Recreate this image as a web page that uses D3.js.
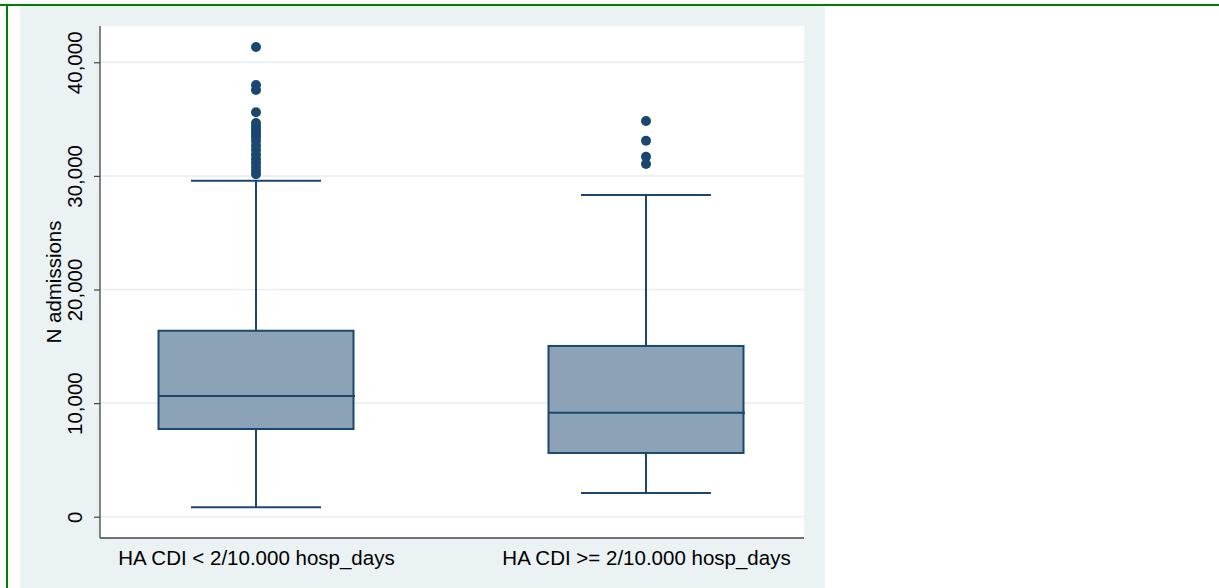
<!DOCTYPE html>
<html>
<head>
<meta charset="utf-8">
<script src="https://cdn.jsdelivr.net/npm/d3@7"></script>
<style>
  html, body { margin: 0; padding: 0; background: #ffffff; }
  svg { display: block; }
  text { font-family: "Liberation Sans", Arial, sans-serif; fill: #000; }
</style>
</head>
<body>
<svg id="chart" width="1219" height="588"></svg>
<script>
// Group labels
const categories = ["HA CDI < 2/10.000 hosp_days", "HA CDI >= 2/10.000 hosp_days"];
// Box summary per group: lower whisker, Q1, median, Q3, upper whisker
const lowerWhisker = [830, 2090];
const q1 = [7720, 5610];
const median = [10630, 9160];
const q3 = [16370, 15030];
const upperWhisker = [29580, 28320];
// Points beyond the upper whisker
const outliersLow = [41350, 38000, 37560, 35600, 34650, 34350, 34050, 33750, 33450, 33100, 32700,
                     32300, 31900, 31500, 31150, 30800, 30450, 30150];
const outliersHigh = [34830, 33100, 31690, 31050];
const yTicks = [0, 10000, 20000, 30000, 40000];
const yTitle = "N admissions";

const svg = d3.select("#chart");

const frame = { left: 20, top: 6, right: 825, bottom: 588 };
const plot = { left: 100, top: 26, right: 804, bottom: 538 };

const navy = "#1a476f";
const boxFill = "#8ca2b6";
const panelBg = "#eaf2f3";
const fontSize = "20.5px";

// outer green frame lines (top and left)
svg.append("rect").attr("x", 0).attr("y", 4).attr("width", 1219).attr("height", 2).attr("fill", "#008000");
svg.append("rect").attr("x", 6).attr("y", 4).attr("width", 2).attr("height", 584).attr("fill", "#008000");

// graph region background
svg.append("rect")
  .attr("x", frame.left).attr("y", frame.top)
  .attr("width", frame.right - frame.left).attr("height", frame.bottom - frame.top)
  .attr("fill", panelBg);

// plot region
svg.append("rect")
  .attr("x", plot.left).attr("y", plot.top)
  .attr("width", plot.right - plot.left).attr("height", plot.bottom - plot.top)
  .attr("fill", "#ffffff");

const y = d3.scaleLinear().domain([0, 40000]).range([516.7, 62.3]);
const x = d3.scalePoint().domain(categories).range([plot.left, 802]).padding(0.4);
const step = x.step();
const boxW = step * 0.5;
const capW = step / 3;

// horizontal grid lines
svg.append("g").selectAll("line").data(yTicks).join("line")
  .attr("x1", plot.left).attr("x2", plot.right)
  .attr("y1", d => y(d)).attr("y2", d => y(d))
  .attr("stroke", "#e6eef1").attr("stroke-width", 1.5);

// y axis
const yAxis = d3.axisLeft(y).tickValues(yTicks).tickSize(6).tickFormat(d3.format(","));
const gy = svg.append("g").attr("transform", `translate(${plot.left},0)`).call(yAxis);
gy.select(".domain").remove();
gy.selectAll(".tick line").attr("stroke", "#444").attr("stroke-width", 1.2);
gy.selectAll(".tick text")
  .attr("transform", "rotate(-90)")
  .attr("x", 0).attr("y", -18.5).attr("dy", 0)
  .attr("text-anchor", "middle")
  .style("font-size", fontSize)
  .style("font-family", "'Liberation Sans', Arial, sans-serif")
  .attr("fill", "#000");

// axis lines
svg.append("line").attr("x1", plot.left).attr("x2", plot.left)
  .attr("y1", plot.top).attr("y2", plot.bottom).attr("stroke", "#444").attr("stroke-width", 1.3);
svg.append("line").attr("x1", plot.left).attr("x2", plot.right)
  .attr("y1", plot.bottom).attr("y2", plot.bottom).attr("stroke", "#444").attr("stroke-width", 1.3);

// x category labels
const xAxis = d3.axisBottom(x).tickSize(0);
const gx = svg.append("g").attr("transform", `translate(0,${plot.bottom})`).call(xAxis);
gx.select(".domain").remove();
gx.selectAll(".tick text")
  .attr("y", 27).attr("dy", 0)
  .style("font-size", fontSize)
  .style("font-family", "'Liberation Sans', Arial, sans-serif")
  .attr("fill", "#000");

// y axis title
svg.append("text")
  .attr("transform", `translate(61,${(plot.top + plot.bottom) / 2}) rotate(-90)`)
  .attr("text-anchor", "middle")
  .style("font-size", fontSize)
  .text(yTitle);

const groups = categories.map((c, i) => ({
  cat: c, lo: lowerWhisker[i], q1: q1[i], med: median[i], q3: q3[i], hi: upperWhisker[i],
  out: i === 0 ? outliersLow : outliersHigh
}));

const g = svg.append("g").selectAll("g").data(groups).join("g");

// whiskers
g.append("line")
  .attr("x1", d => x(d.cat)).attr("x2", d => x(d.cat))
  .attr("y1", d => y(d.q3)).attr("y2", d => y(d.hi))
  .attr("stroke", navy).attr("stroke-width", 2);
g.append("line")
  .attr("x1", d => x(d.cat)).attr("x2", d => x(d.cat))
  .attr("y1", d => y(d.q1)).attr("y2", d => y(d.lo))
  .attr("stroke", navy).attr("stroke-width", 2);
// caps
g.append("line")
  .attr("x1", d => x(d.cat) - capW / 2).attr("x2", d => x(d.cat) + capW / 2)
  .attr("y1", d => y(d.hi)).attr("y2", d => y(d.hi))
  .attr("stroke", navy).attr("stroke-width", 2);
g.append("line")
  .attr("x1", d => x(d.cat) - capW / 2).attr("x2", d => x(d.cat) + capW / 2)
  .attr("y1", d => y(d.lo)).attr("y2", d => y(d.lo))
  .attr("stroke", navy).attr("stroke-width", 2);

// boxes
g.append("rect")
  .attr("x", d => x(d.cat) - boxW / 2).attr("width", boxW)
  .attr("y", d => y(d.q3)).attr("height", d => y(d.q1) - y(d.q3))
  .attr("fill", boxFill).attr("stroke", navy).attr("stroke-width", 2);
// medians
g.append("line")
  .attr("x1", d => x(d.cat) - boxW / 2).attr("x2", d => x(d.cat) + boxW / 2 + 1.5)
  .attr("y1", d => y(d.med)).attr("y2", d => y(d.med))
  .attr("stroke", navy).attr("stroke-width", 2);

// outlying points
g.selectAll("circle").data(d => d.out.map(v => ({ cat: d.cat, v }))).join("circle")
  .attr("cx", d => x(d.cat)).attr("cy", d => y(d.v))
  .attr("r", 5).attr("fill", navy);
</script>
</body>
</html>
